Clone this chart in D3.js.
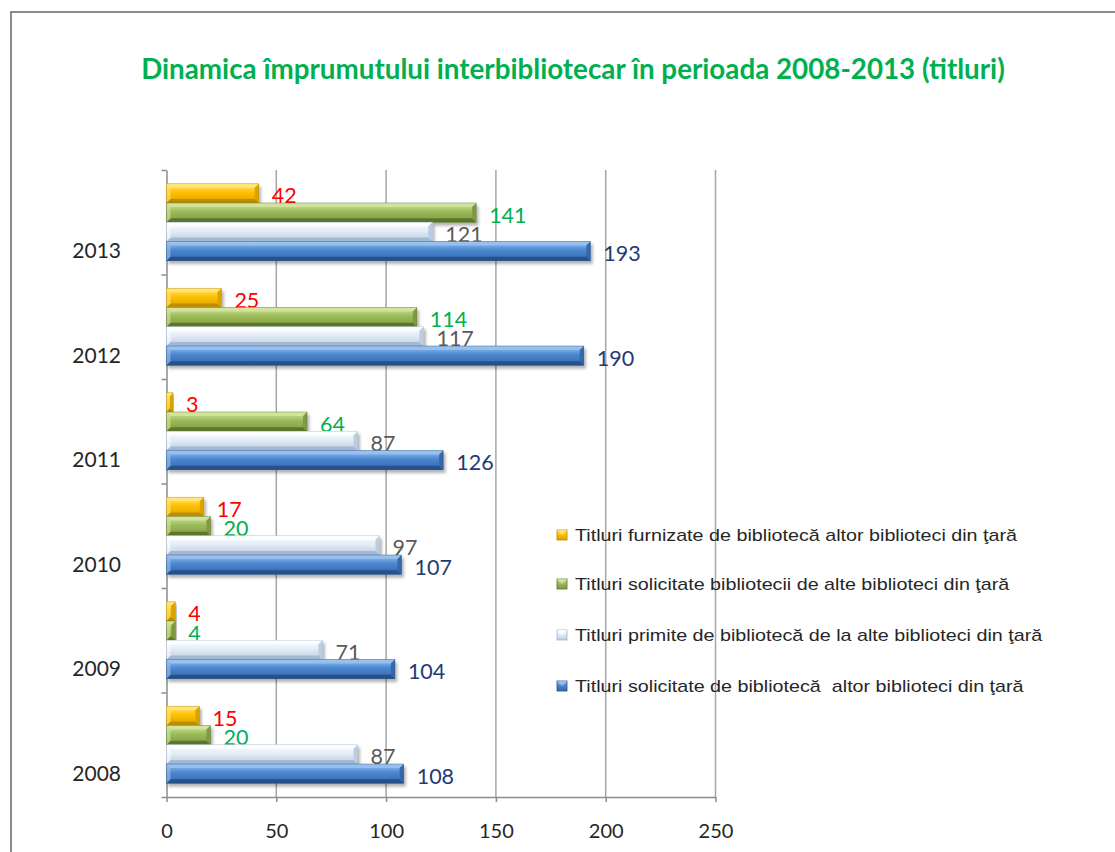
<!DOCTYPE html>
<html>
<head>
<meta charset="utf-8">
<script src="https://cdn.jsdelivr.net/npm/d3@7"></script>
<style>
  body { margin: 0; background: #fff; }
  #chart svg { display: block; }
</style>
</head>
<body>
<div id="chart"></div>
<script>
// Data
const years = ['2008', '2009', '2010', '2011', '2012', '2013'];
const seriesNames = [
  'Titluri furnizate de bibliotecă altor biblioteci din ţară',
  'Titluri solicitate bibliotecii de alte biblioteci din ţară',
  'Titluri primite de bibliotecă de la alte biblioteci din ţară',
  'Titluri solicitate de bibliotecă  altor biblioteci din ţară'
];
const furnizate = [15, 4, 17, 3, 25, 42];
const solicitateBibliotecii = [20, 4, 20, 64, 114, 141];
const primite = [87, 71, 97, 87, 117, 121];
const solicitateDe = [108, 104, 107, 126, 190, 193];
const xTicks = [0, 50, 100, 150, 200, 250];
const titleText = 'Dinamica împrumutului interbibliotecar în perioada 2008-2013 (titluri)';

function drawChart() {
  const width = 1115;
  const height = 852;
  const plot = { left: 166.5, right: 715.5, top: 170, bottom: 797 };

  const svg = d3.select('#chart').append('svg')
    .attr('width', width)
    .attr('height', height);

  // colours per series
  const styles = [
    { hi: '#FFE680', body: '#FFC000', lo: '#B88A00', side: '#D9A300', label: '#FF0000' },
    { hi: '#D4E6A0', body: '#9BBB59', lo: '#5A7029', side: '#7E9A42', label: '#00B050' },
    { hi: '#FFFFFF', body: '#E4ECF6', lo: '#9FB5D2', side: '#BCCDE3', label: '#595959' },
    { hi: '#9CC3F0', body: '#4A86D0', lo: '#254E85', side: '#3568A8', label: '#1F3B73' }
  ];
  const series = [furnizate, solicitateBibliotecii, primite, solicitateDe];

  const defs = svg.append('defs');
  const shadow = defs.append('filter').attr('id', 'shadow')
    .attr('x', '-5%').attr('y', '-20%').attr('width', '115%').attr('height', '160%');
  shadow.append('feDropShadow')
    .attr('dx', 2).attr('dy', 3).attr('stdDeviation', 1.8)
    .attr('flood-color', '#000').attr('flood-opacity', 0.3);

  styles.forEach((s, i) => {
    const g = defs.append('linearGradient').attr('id', `grad${i}`)
      .attr('x1', 0).attr('y1', 0).attr('x2', 0).attr('y2', 1);
    g.append('stop').attr('offset', '0%').attr('stop-color', s.hi);
    g.append('stop').attr('offset', '45%').attr('stop-color', s.body);
    g.append('stop').attr('offset', '100%').attr('stop-color', s.side);
  });

  // Frame
  svg.append('path')
    .attr('d', `M11,${height} L11,12 L${width},12`)
    .attr('fill', 'none')
    .attr('stroke', '#8C8C8C')
    .attr('stroke-width', 2);

  // Title
  const title = svg.append('text')
    .attr('x', 573)
    .attr('y', 68)
    .attr('text-anchor', 'middle')
    .attr('dominant-baseline', 'central')
    .attr('fill', '#00B050')
    .style('font-family', 'Lato, "Open Sans", sans-serif')
    .style('font-weight', 'bold')
    .style('font-size', '22px')
    .text(titleText);
  const tw = title.node().getComputedTextLength();
  if (tw > 0) title.style('font-size', (22 * 864 / tw).toFixed(2) + 'px');

  // Scales
  const x = d3.scaleLinear().domain([0, 250]).range([plot.left, plot.right]);
  const yEdge = d3.scaleLinear().domain([0, years.length]).range([plot.bottom, plot.top]);
  const y = d3.scaleBand()
    .domain(years.slice().reverse())
    .range([plot.top, plot.bottom])
    .paddingInner(0.263)
    .paddingOuter(0.1315);
  const yInner = d3.scaleBand()
    .domain(d3.range(series.length))
    .range([0, y.bandwidth()]);

  // Gridlines
  svg.append('g')
    .selectAll('line')
    .data(xTicks.slice(1))
    .join('line')
    .attr('x1', d => x(d)).attr('x2', d => x(d))
    .attr('y1', plot.top).attr('y2', plot.bottom)
    .attr('stroke', '#A6A6A6')
    .attr('stroke-width', 1.5);

  // X axis
  const xAxis = svg.append('g')
    .attr('transform', `translate(0,${plot.bottom})`)
    .call(d3.axisBottom(x).tickValues(xTicks).tickSize(5).tickSizeOuter(0).tickPadding(22));
  xAxis.select('.domain').attr('stroke', '#8C8C8C').attr('stroke-width', 1.5);
  xAxis.selectAll('.tick line').attr('stroke', '#8C8C8C').attr('stroke-width', 1.5);
  xAxis.selectAll('.tick text')
    .attr('fill', '#262626')
    .style('font-family', 'Lato, sans-serif')
    .style('font-size', '20px');

  // Y axis (ticks at category boundaries)
  const yAxis = svg.append('g')
    .attr('transform', `translate(${plot.left},0)`)
    .call(d3.axisLeft(yEdge).tickValues(d3.range(years.length + 1)).tickSize(5).tickSizeOuter(0).tickFormat(''));
  yAxis.select('.domain').attr('stroke', '#8C8C8C').attr('stroke-width', 1.5);
  yAxis.selectAll('.tick line').attr('stroke', '#8C8C8C').attr('stroke-width', 1.5);

  svg.append('g')
    .selectAll('text')
    .data(years)
    .join('text')
    .attr('x', 121)
    .attr('y', d => y(d) + y.bandwidth() - 11)
    .attr('text-anchor', 'end')
    .attr('dominant-baseline', 'central')
    .attr('fill', '#262626')
    .style('font-family', 'Lato, sans-serif')
    .style('font-size', '21px')
    .text(d => d);

  // Bars with bevel
  const b = 4;
  series.forEach((vals, si) => {
    const s = styles[si];
    const g = svg.append('g').attr('class', `series-${si}`);
    years.forEach((yr, yi) => {
      const v = vals[yi];
      const x0 = x(0);
      const x1 = x(v);
      const y0 = y(yr) + yInner(si);
      const h = yInner.bandwidth();
      const y1 = y0 + h;
      const bw = Math.min(b, (x1 - x0) / 2);
      const bar = g.append('g').attr('filter', 'url(#shadow)');
      bar.append('rect')
        .attr('x', x0).attr('y', y0)
        .attr('width', x1 - x0).attr('height', h)
        .attr('fill', `url(#grad${si})`);
      // top bevel
      bar.append('polygon')
        .attr('points', `${x0},${y0} ${x1},${y0} ${x1 - bw},${y0 + b} ${x0 + bw},${y0 + b}`)
        .attr('fill', s.hi).attr('opacity', 0.8);
      // bottom bevel
      bar.append('polygon')
        .attr('points', `${x0},${y1} ${x1},${y1} ${x1 - bw},${y1 - b} ${x0 + bw},${y1 - b}`)
        .attr('fill', s.lo).attr('opacity', 0.9);
      // right bevel
      bar.append('polygon')
        .attr('points', `${x1},${y0} ${x1},${y1} ${x1 - bw},${y1 - b} ${x1 - bw},${y0 + b}`)
        .attr('fill', s.side);
      // left bevel
      bar.append('polygon')
        .attr('points', `${x0},${y0} ${x0},${y1} ${x0 + bw},${y1 - b} ${x0 + bw},${y0 + b}`)
        .attr('fill', s.hi).attr('opacity', 0.6);
      bar.append('rect')
        .attr('x', x0).attr('y', y0)
        .attr('width', x1 - x0).attr('height', h)
        .attr('fill', 'none')
        .attr('stroke', s.lo).attr('stroke-width', 0.6).attr('stroke-opacity', 0.7);

      g.append('text')
        .attr('x', x1 + 13)
        .attr('y', y0 + h / 2 + 2)
        .attr('dominant-baseline', 'central')
        .attr('fill', s.label)
        .style('font-family', 'Lato, sans-serif')
        .style('font-size', '21.5px')
        .text(v);
    });
  });

  // Legend
  const legendY = [535, 584, 635, 686];
  const legend = svg.append('g');
  seriesNames.forEach((name, i) => {
    const s = styles[i];
    const item = legend.append('g').attr('transform', `translate(557,${legendY[i]})`);
    item.append('rect')
      .attr('x', 0).attr('y', -5).attr('width', 10).attr('height', 10)
      .attr('fill', `url(#grad${i})`)
      .attr('stroke', s.lo).attr('stroke-width', 0.8);
    item.append('polygon')
      .attr('points', '0,-5 10,-5 5,0')
      .attr('fill', s.hi).attr('opacity', 0.8);
    item.append('text')
      .attr('transform', 'translate(18,0) scale(1.16,1)')
      .attr('dominant-baseline', 'central')
      .attr('fill', '#262626')
      .style('font-family', '"Liberation Sans", Arial, sans-serif')
      .style('font-size', '17px')
      .style('white-space', 'pre')
      .attr('xml:space', 'preserve')
      .text(name);
  });
}

drawChart();
</script>
</body>
</html>
